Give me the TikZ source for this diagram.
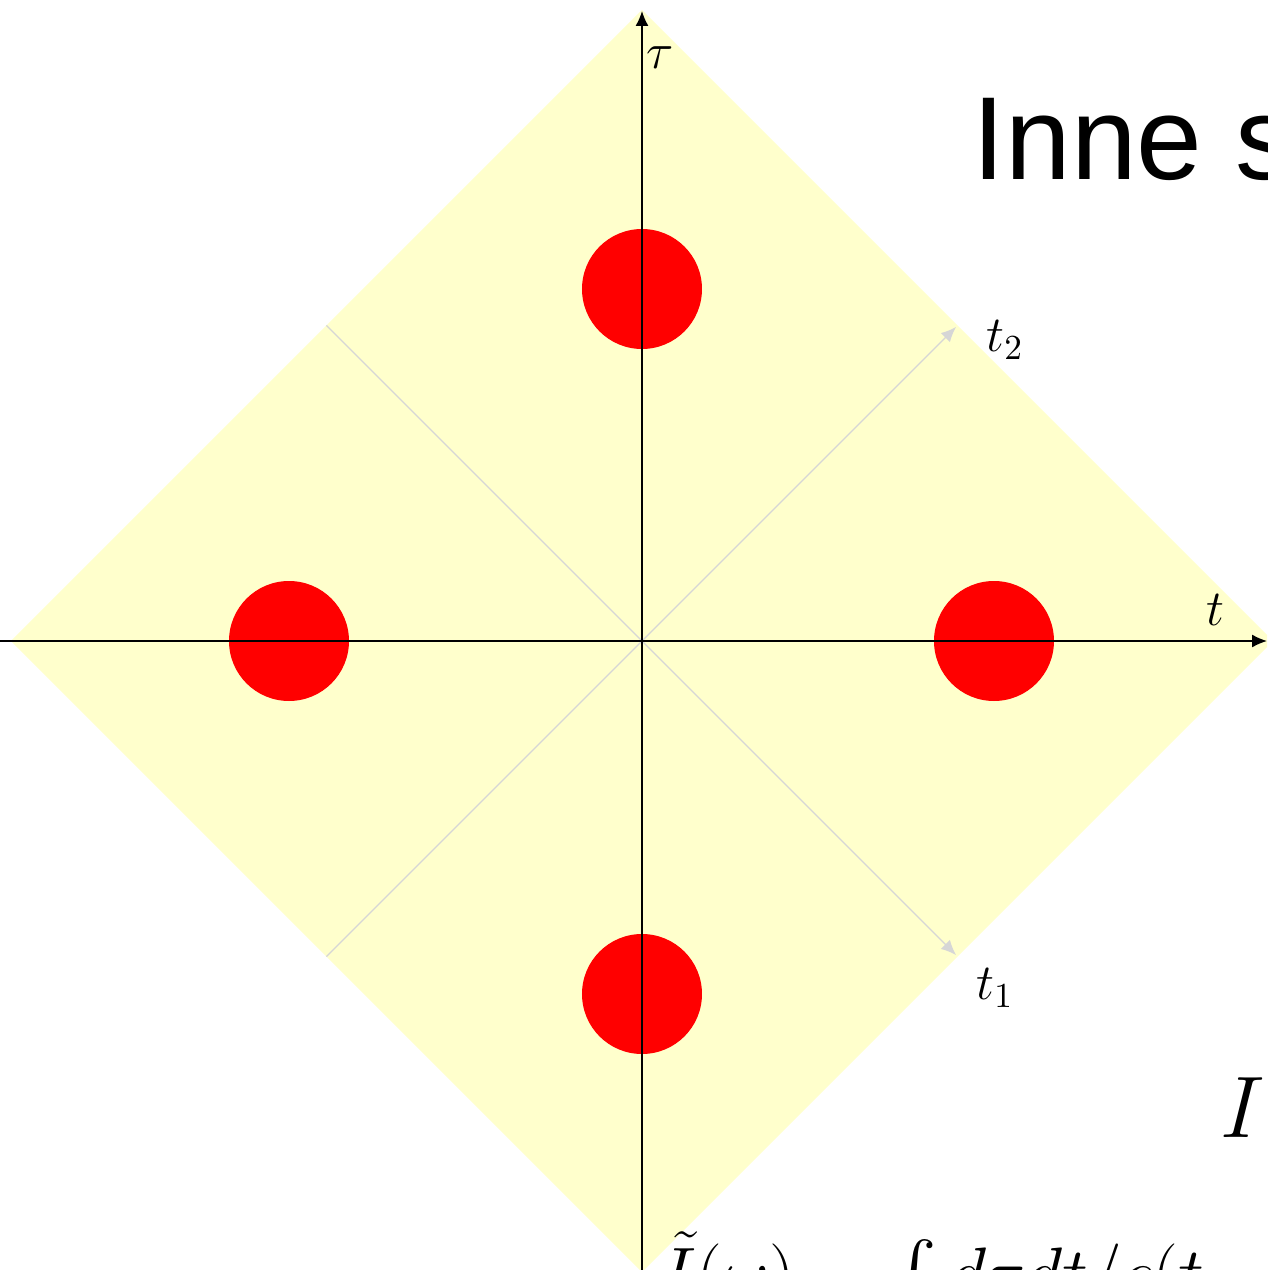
\documentclass[tikz,border=0pt]{standalone}
\usepackage{fontspec}
\newfontfamily\slidefont{Liberation Sans}
\usepackage{amsmath}
\usetikzlibrary{arrows.meta}
\definecolor{paleyellow}{RGB}{255,255,204}
\definecolor{lightrule}{RGB}{214,214,214}

\begin{document}
\begin{tikzpicture}[
    axis/.style={-{Latex[length=1.5mm,width=1.3mm]},black},
    diag/.style={-{Latex[length=1.5mm,width=1.3mm]},lightrule},
    spot/.style={circle,fill=red,minimum size=1.2cm,inner sep=0pt},
    lbl/.style={font=\Large}
  ]
    \clip (-6.42,-6.29) rectangle (6.25,6.41);
    \fill[paleyellow] (0,6.31) -- (6.31,0) -- (0,-6.31) -- (-6.31,0) -- cycle;
    % light diagonal axes
    \coordinate (o) at (0,0);
    \coordinate (d1s) at (-3.155,3.155);
    \coordinate (d1e) at (3.14,-3.14);
    \coordinate (d2s) at (-3.155,-3.155);
    \coordinate (d2e) at (3.14,3.14);
    \draw[diag] (d1s) -- (d1e);
    \draw[diag] (d2s) -- (d2e);
    \node[lbl] (t1) at (3.53,-3.47) {$t_1$};
    \node[lbl] (t2) at (3.63,3.01) {$t_2$};
    % spots
    \node[spot] (up) at (0,3.52) {};
    \node[spot] (dn) at (0,-3.53) {};
    \node[spot] (lf) at (-3.53,0) {};
    \node[spot] (rt) at (3.52,0) {};
    % axes
    \coordinate (xl) at (-6.42,0);
    \coordinate (xr) at (6.25,0);
    \coordinate (yb) at (0,-6.29);
    \coordinate (yt) at (0,6.30);
    \draw[axis] (xl) -- (xr);
    \draw[axis] (yb) -- (yt);
    \node[lbl] (tau) at (0.18,5.83) {$\tau$};
    \node[lbl] (t) at (5.73,0.31) {$t$};
    % slide text
    \node[font=\slidefont\fontsize{33.6}{40}\selectfont,anchor=base west,inner sep=0pt]
      (title) at (3.30,4.61) {Inne s};
    \node[font=\fontsize{23}{28}\selectfont,anchor=base west,inner sep=0pt]
      (bigI) at (5.78,-4.96) {$I$};
    \node[font=\fontsize{22.3}{27}\selectfont,anchor=base west,inner sep=0pt]
      (ft) at (0.17,-6.57) {$\tilde{I}(\omega) = \int d\tau dt/c(t$};
\end{tikzpicture}
\end{document}
